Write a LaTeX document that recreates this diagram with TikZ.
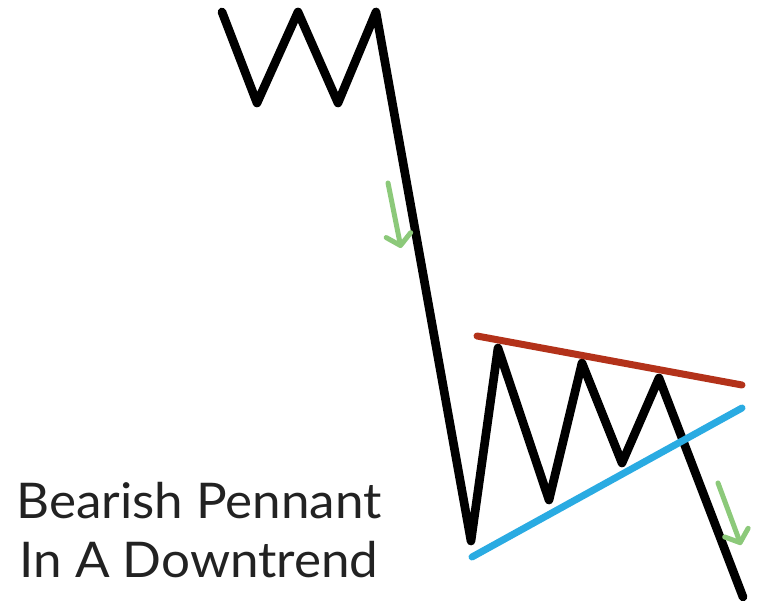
\documentclass[tikz,border=0pt]{standalone}
\usepackage{fontspec}
\setmainfont[FakeStretch=1.04]{Lato}
\usetikzlibrary{arrows.meta}
\definecolor{pennantred}{HTML}{B3321A}
\definecolor{pennantblue}{HTML}{2AABE2}
\definecolor{trendgreen}{HTML}{8CC97A}
\definecolor{labelgray}{HTML}{222222}
\begin{document}
\begin{tikzpicture}[
        x=0.3mm, y=-0.3mm,
        price/.style={line width=2.6mm, black, line join=round, line cap=round},
        resist/.style={line width=2.1mm, pennantred, line cap=round},
        support/.style={line width=2.1mm, pennantblue, line cap=round},
        move/.style={line width=1.5mm, trendgreen, line cap=round,
          -{Straight Barb[length=3.2mm, width=7.5mm, round]}},
        caption/.style={font=\fontsize{42}{50}\selectfont, text=labelgray, align=center},
      ]
        \useasboundingbox (0,0) rectangle (762,601);

        % price path
        \draw[price] (222,12) -- (257,103) -- (298,12) -- (338,103) -- (376,12)
          -- (471,541) -- (498,348) -- (549,500) -- (582,363) -- (622,463)
          -- (659,378) -- (743,597);

        % pennant trend lines
        \coordinate (r1) at (477,336);
        \coordinate (r2) at (742,385);
        \coordinate (s1) at (472,557);
        \coordinate (s2) at (742,408);
        \draw[resist] (r1) -- (r2);
        \draw[support] (s1) -- (s2);

        % direction arrows
        \coordinate (a1) at (388,183);
        \coordinate (b1) at (401,248);
        \coordinate (a2) at (718,483);
        \coordinate (b2) at (741,545);
        \draw[move] (a1) -- (b1);
        \draw[move] (a2) -- (b2);

        \node[caption] (label) at (199,530) {Bearish Pennant\\In A Downtrend};
      \end{tikzpicture}
\end{document}
